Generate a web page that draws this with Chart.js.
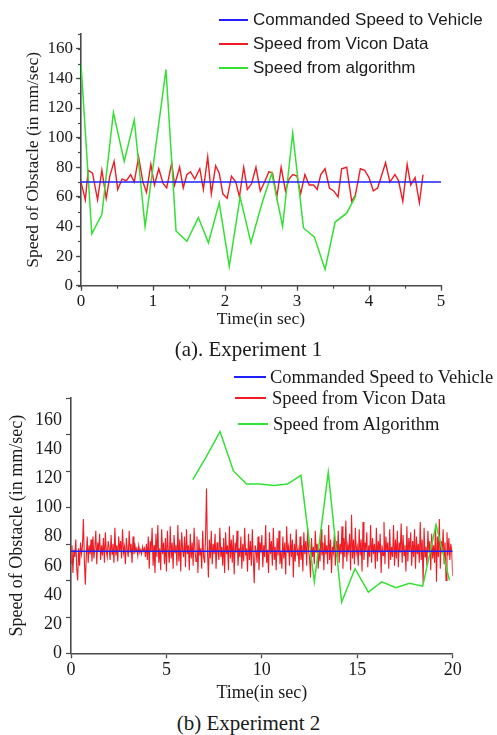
<!DOCTYPE html>
<html>
<head>
<meta charset="utf-8">
<script src="https://cdn.jsdelivr.net/npm/chart.js@4/dist/chart.umd.min.js"></script>
<style>
  body { margin: 0; background: #fff; width: 497px; height: 735px; position: relative; overflow: hidden; }
  canvas { position: absolute; left: 0; }
  #chart1 { top: 0; }
  #chart2 { top: 360px; }
  .row { position: absolute; left: 0; height: 20px; white-space: nowrap; color: #1a1a1a; }
  .row .swatch { position: absolute; top: 9px; height: 2px; }
  .row .txt { position: absolute; top: 0; line-height: 20px; }
  .leg1 { font: 17px "Liberation Sans", Arial, sans-serif; }
  .leg2 { font: 18.5px "Liberation Serif", "Times New Roman", serif; }
  .caption { position: absolute; left: 0; width: 497px; text-align: center; line-height: 24px;
             font: 21px "Liberation Serif", "Times New Roman", serif; color: #1a1a1a; }
</style>
</head>
<body>
<canvas id="chart1" width="497" height="335"></canvas>
<canvas id="chart2" width="497" height="345"></canvas>
<div class="caption" style="top:337px">(a). Experiment 1</div>
<div class="caption" style="top:711px">(b) Experiment 2</div>
<script>
// ---- Experiment 1 ----
const exp1CmdTime = [0, 5];
const exp1CmdSpeed = [70, 70];

const exp1ViconTime = [
  0.00, 0.06, 0.10, 0.16, 0.23, 0.29, 0.35, 0.40, 0.46, 0.51, 0.57, 0.63, 0.69, 0.74, 0.80, 0.86,
  0.91, 0.97, 1.02, 1.08, 1.14, 1.19, 1.26, 1.30, 1.37, 1.42, 1.47, 1.52, 1.58, 1.65, 1.70, 1.76,
  1.81, 1.87, 1.92, 1.97, 2.03, 2.09, 2.15, 2.20, 2.26, 2.31, 2.37, 2.43, 2.49, 2.55, 2.61, 2.66,
  2.72, 2.78, 2.84, 2.89, 2.94, 3.00, 3.05, 3.11, 3.17, 3.23, 3.28, 3.33, 3.39, 3.45, 3.51, 3.57,
  3.62, 3.69, 3.76, 3.81, 3.88, 3.94, 4.00, 4.06, 4.12, 4.23, 4.29, 4.36, 4.41, 4.47, 4.53, 4.58,
  4.64, 4.70, 4.75
];
const exp1ViconSpeed = [
  70, 58, 78, 76, 58, 78, 59, 74, 84, 65, 72, 71, 75, 70, 87, 70,
  63, 82, 68, 79, 69, 66, 83, 68, 80, 66, 75, 77, 72, 79, 65, 87,
  62, 81, 76, 62, 59, 74, 70, 60, 80, 65, 69, 80, 64, 70, 77, 76,
  60, 80, 64, 72, 75, 74, 62, 75, 68, 68, 65, 75, 79, 66, 64, 60,
  79, 80, 57, 61, 79, 78, 73, 64, 66, 83, 70, 75, 71, 57, 82, 68,
  73, 56, 75
];

const exp1AlgoTime = [
  0.00, 0.15, 0.29, 0.45, 0.60, 0.74, 0.89, 1.18, 1.32, 1.47, 1.63, 1.77, 1.92,
  2.06, 2.21, 2.36, 2.51, 2.65, 2.80, 2.94, 3.09, 3.24, 3.39, 3.53, 3.69, 3.82
];
const exp1AlgoSpeed = [
  150, 35, 48, 117, 84, 112, 40, 146, 37, 30, 46, 29, 56,
  13, 60, 29, 55, 76, 40, 103, 39, 33, 11, 43, 49, 61
];

const exp1XTicks = [0, 1, 2, 3, 4, 5];
const exp1YTicks = [0, 20, 40, 60, 80, 100, 120, 140, 160];

// ---- Experiment 2 ----
const exp2CmdTime = [0, 20];
const exp2CmdSpeed = [70, 70];

const exp2ViconStep = 0.05; // sample period of the Vicon data (s)
const exp2ViconSpeed = [
  62, 74, 55, 71, 66, 78, 58, 50, 72, 60, 76, 68, 73, 92, 64, 47, 66, 80, 62, 74,
  68, 78, 63, 80, 65, 72, 84, 61, 76, 70, 82, 64, 74, 67, 79, 62, 83, 70, 66, 77,
  72, 64, 81, 68, 75, 62, 86, 67, 74, 63, 80, 70, 77, 65, 85, 69, 73, 61, 79, 71,
  66, 84, 69, 75, 62, 80, 68, 74, 70, 72, 67, 74, 69, 71, 68, 73, 70, 72, 66, 75,
  64, 80, 58, 77, 70, 86, 60, 74, 55, 82, 66, 88, 62, 72, 57, 85, 68, 76, 61, 79,
  56, 84, 70, 62, 87, 65, 76, 58, 81, 69, 74, 60, 88, 63, 78, 56, 83, 71, 66, 80,
  59, 85, 68, 74, 57, 82, 65, 76, 60, 86, 70, 63, 80, 55, 78, 67, 72, 58, 84, 66,
  62, 80, 113, 70, 52, 78, 65, 84, 61, 75, 68, 82, 58, 76, 70, 64, 86, 66, 73, 60,
  79, 55, 83, 68, 74, 57, 87, 65, 78, 62, 81, 54, 76, 69, 84, 60, 72, 66, 80, 58,
  75, 63, 86, 67, 72, 56, 82, 64, 77, 60, 85, 66, 48, 74, 70, 62, 80, 57, 76, 69,
  81, 59, 74, 66, 88, 62, 71, 55, 83, 68, 77, 60, 86, 64, 73, 57, 79, 67, 84, 61,
  70, 58, 80, 65, 76, 54, 87, 69, 73, 60, 82, 66, 78, 52, 75, 63, 85, 67, 71, 59,
  80, 64, 74, 56, 83, 68, 77, 60, 86, 70, 65, 52, 79, 66, 73, 61, 84, 69, 75, 58,
  72, 63, 85, 67, 76, 57, 81, 68, 74, 61, 88, 64, 78, 55, 73, 69, 82, 60, 77, 66,
  84, 62, 75, 68, 87, 58, 79, 66, 91, 63, 74, 70, 82, 57, 95, 65, 78, 61, 86, 69,
  73, 60, 85, 67, 78, 56, 90, 64, 76, 70, 83, 59, 74, 66, 88, 62, 79, 68, 75, 58,
  86, 63, 77, 69, 82, 55, 74, 67, 90, 61, 80, 70, 76, 58, 85, 64, 73, 66, 88, 60,
  78, 65, 84, 59, 76, 69, 89, 62, 81, 67, 74, 56, 87, 63, 79, 70, 83, 60, 77, 66,
  85, 58, 80, 68, 75, 62, 90, 64, 78, 48, 86, 66, 73, 60, 84, 69, 77, 57, 82, 65,
  74, 62, 88, 49, 80, 66, 92, 58, 77, 69, 85, 61, 76, 50, 83, 67, 79, 64, 75, 70,
  53
];

const exp2AlgoTime = [
  6.38, 7.10, 7.81, 8.51, 9.20, 9.90, 10.64, 11.34, 12.05, 12.75,
  13.48, 14.18, 14.88, 15.58, 16.28, 17.03, 17.73, 18.43, 19.13, 19.83
];
const exp2AlgoSpeed = [
  119, 135, 152, 125, 116, 116, 115, 116, 122, 49,
  124, 35, 58, 42, 49, 45, 48, 46, 88, 50
];

const exp2XTicks = [0, 5, 10, 15, 20];
const exp2YTicks = [0, 20, 40, 60, 80, 100, 120, 140, 160];

// ---- shared styling ----
const blue = "#1f1fff";
const red = "#ee1c24";
const green = "#33e133";
const axisColor = "#4a4a4a";
const textColor = "#1a1a1a";
const serif = '"Liberation Serif", "Times New Roman", serif';

Chart.defaults.font.family = serif;
Chart.defaults.color = textColor;

function toXY(times, values) {
  return times.map((t, i) => ({ x: t, y: values[i] }));
}

// extra tick marks drawn from the scales (minor ticks, offset tick sets)
const extraTicks = {
  id: "extraTicks",
  afterDraw(chart, args, opts) {
    const ctx = chart.ctx;
    ctx.save();
    ctx.strokeStyle = axisColor;
    ctx.lineWidth = 1.2;
    (opts.marks || []).forEach((m) => {
      const scale = chart.scales[m.axis];
      for (let v = scale.min; v <= scale.max + 1e-9; v += m.step) {
        const p = Math.round(scale.getPixelForValue(v)) + 0.5;
        ctx.beginPath();
        if (scale.isHorizontal()) {
          ctx.moveTo(p, scale.top);
          ctx.lineTo(p, scale.top + m.length);
        } else {
          ctx.moveTo(scale.right, p);
          ctx.lineTo(scale.right - m.length, p);
        }
        ctx.stroke();
      }
    });
    ctx.restore();
  },
};

function lineSet(label, data, color, width, order) {
  return {
    label: label,
    data: data,
    borderColor: color,
    backgroundColor: color,
    borderWidth: width,
    pointRadius: 0,
    tension: 0,
    order: order,
  };
}

let chart1 = new Chart(document.getElementById("chart1"), {
  type: "line",
  data: {
    datasets: [
      lineSet("Commanded Speed to Vehicle", toXY(exp1CmdTime, exp1CmdSpeed), blue, 1.6, 0),
      lineSet("Speed from Vicon Data", toXY(exp1ViconTime, exp1ViconSpeed), red, 1.4, 2),
      lineSet("Speed from algorithm", toXY(exp1AlgoTime, exp1AlgoSpeed), green, 1.5, 1),
    ],
  },
  options: {
    responsive: false,
    animation: false,
    events: [],
    layout: { padding: { top: 34, right: 56, bottom: 0, left: 0 } },
    plugins: {
      legend: { display: false },
      tooltip: { enabled: false },
      extraTicks: {
        marks: [
          { axis: "y", step: 10, length: 3 },
          { axis: "x", step: 0.5, length: 3 },
        ],
      },
    },
    scales: {
      x: {
        type: "linear",
        min: 0,
        max: 5,
        afterBuildTicks: (s) => { s.ticks = exp1XTicks.map((v) => ({ value: v })); },
        afterFit: (s) => { s.height = 49.3; },
        grid: { drawOnChartArea: false, tickLength: 5, tickColor: axisColor, tickWidth: 1.3 },
        border: { color: axisColor, width: 1.6 },
        ticks: { padding: 1, maxRotation: 0, font: { size: 17 } },
        title: { display: true, text: "Time(in sec)", font: { size: 17.5 }, padding: { top: 0, bottom: 5 } },
      },
      y: {
        min: 0,
        max: 170,
        afterBuildTicks: (s) => { s.ticks = exp1YTicks.map((v) => ({ value: v })); },
        afterFit: (s) => { s.width = 81; },
        grid: { drawOnChartArea: false, tickLength: 5, tickColor: axisColor, tickWidth: 1.3 },
        border: { color: axisColor, width: 1.6 },
        ticks: { padding: 3, font: { size: 17 } },
        title: { display: true, text: "Speed of Obstacle (in mm/sec)", font: { size: 17.5 }, padding: { top: 23, bottom: 0 } },
      },
    },
  },
  plugins: [extraTicks],
});

let chart2 = new Chart(document.getElementById("chart2"), {
  type: "line",
  data: {
    datasets: [
      lineSet("Commanded Speed to Vehicle", toXY(exp2CmdTime, exp2CmdSpeed), blue, 1.5, 0),
      lineSet("Speed from Vicon Data",
        exp2ViconSpeed.map((v, i) => ({ x: +(i * exp2ViconStep).toFixed(2), y: v })), red, 1.1, 2),
      lineSet("Speed from Algorithm", toXY(exp2AlgoTime, exp2AlgoSpeed), green, 1.5, 1),
    ],
  },
  options: {
    responsive: false,
    animation: false,
    events: [],
    layout: { padding: { top: 38, right: 44.3, bottom: 0, left: 0 } },
    plugins: {
      legend: { display: false },
      tooltip: { enabled: false },
      extraTicks: { marks: [{ axis: "y", step: 25, length: 5 }] },
    },
    scales: {
      x: {
        type: "linear",
        min: 0,
        max: 20,
        afterBuildTicks: (s) => { s.ticks = exp2XTicks.map((v) => ({ value: v })); },
        afterFit: (s) => { s.height = 51.7; },
        grid: { drawOnChartArea: false, tickLength: 5, tickColor: axisColor, tickWidth: 1.3 },
        border: { color: axisColor, width: 1.6 },
        ticks: { padding: 1, maxRotation: 0, font: { size: 18 } },
        title: { display: true, text: "Time(in sec)", font: { size: 18 }, padding: { top: 0, bottom: 1 } },
      },
      y: {
        min: 0,
        max: 175,
        afterBuildTicks: (s) => { s.ticks = exp2YTicks.map((v) => ({ value: v })); },
        afterFit: (s) => { s.width = 71; },
        grid: { drawOnChartArea: false, drawTicks: false },
        border: { color: axisColor, width: 1.6 },
        ticks: { padding: 9, font: { size: 18 } },
        title: { display: true, text: "Speed of Obstacle (in mm/sec)", font: { size: 18 }, padding: { top: 6, bottom: 0 } },
      },
    },
  },
  plugins: [extraTicks],
});

// HTML legends built from the chart datasets
function buildLegend(chart, cls, rowsY, lines, textX) {
  chart.data.datasets.forEach((ds, i) => {
    const row = document.createElement("div");
    row.className = "row " + cls;
    row.style.top = rowsY[i] - 10 + "px";
    const sw = document.createElement("span");
    sw.className = "swatch";
    sw.style.left = lines[i][0] + "px";
    sw.style.width = lines[i][1] - lines[i][0] + "px";
    sw.style.backgroundColor = ds.borderColor;
    const txt = document.createElement("span");
    txt.className = "txt";
    txt.style.left = textX[i] + "px";
    txt.textContent = ds.label;
    row.appendChild(sw);
    row.appendChild(txt);
    document.body.appendChild(row);
  });
}

buildLegend(chart1, "leg1", [20, 44, 68], [[219, 248], [219, 248], [219, 248]], [253, 253, 253]);
buildLegend(chart2, "leg2", [377, 398, 424], [[234, 266], [235, 266], [238, 268]], [270, 272, 273]);
</script>
</body>
</html>
